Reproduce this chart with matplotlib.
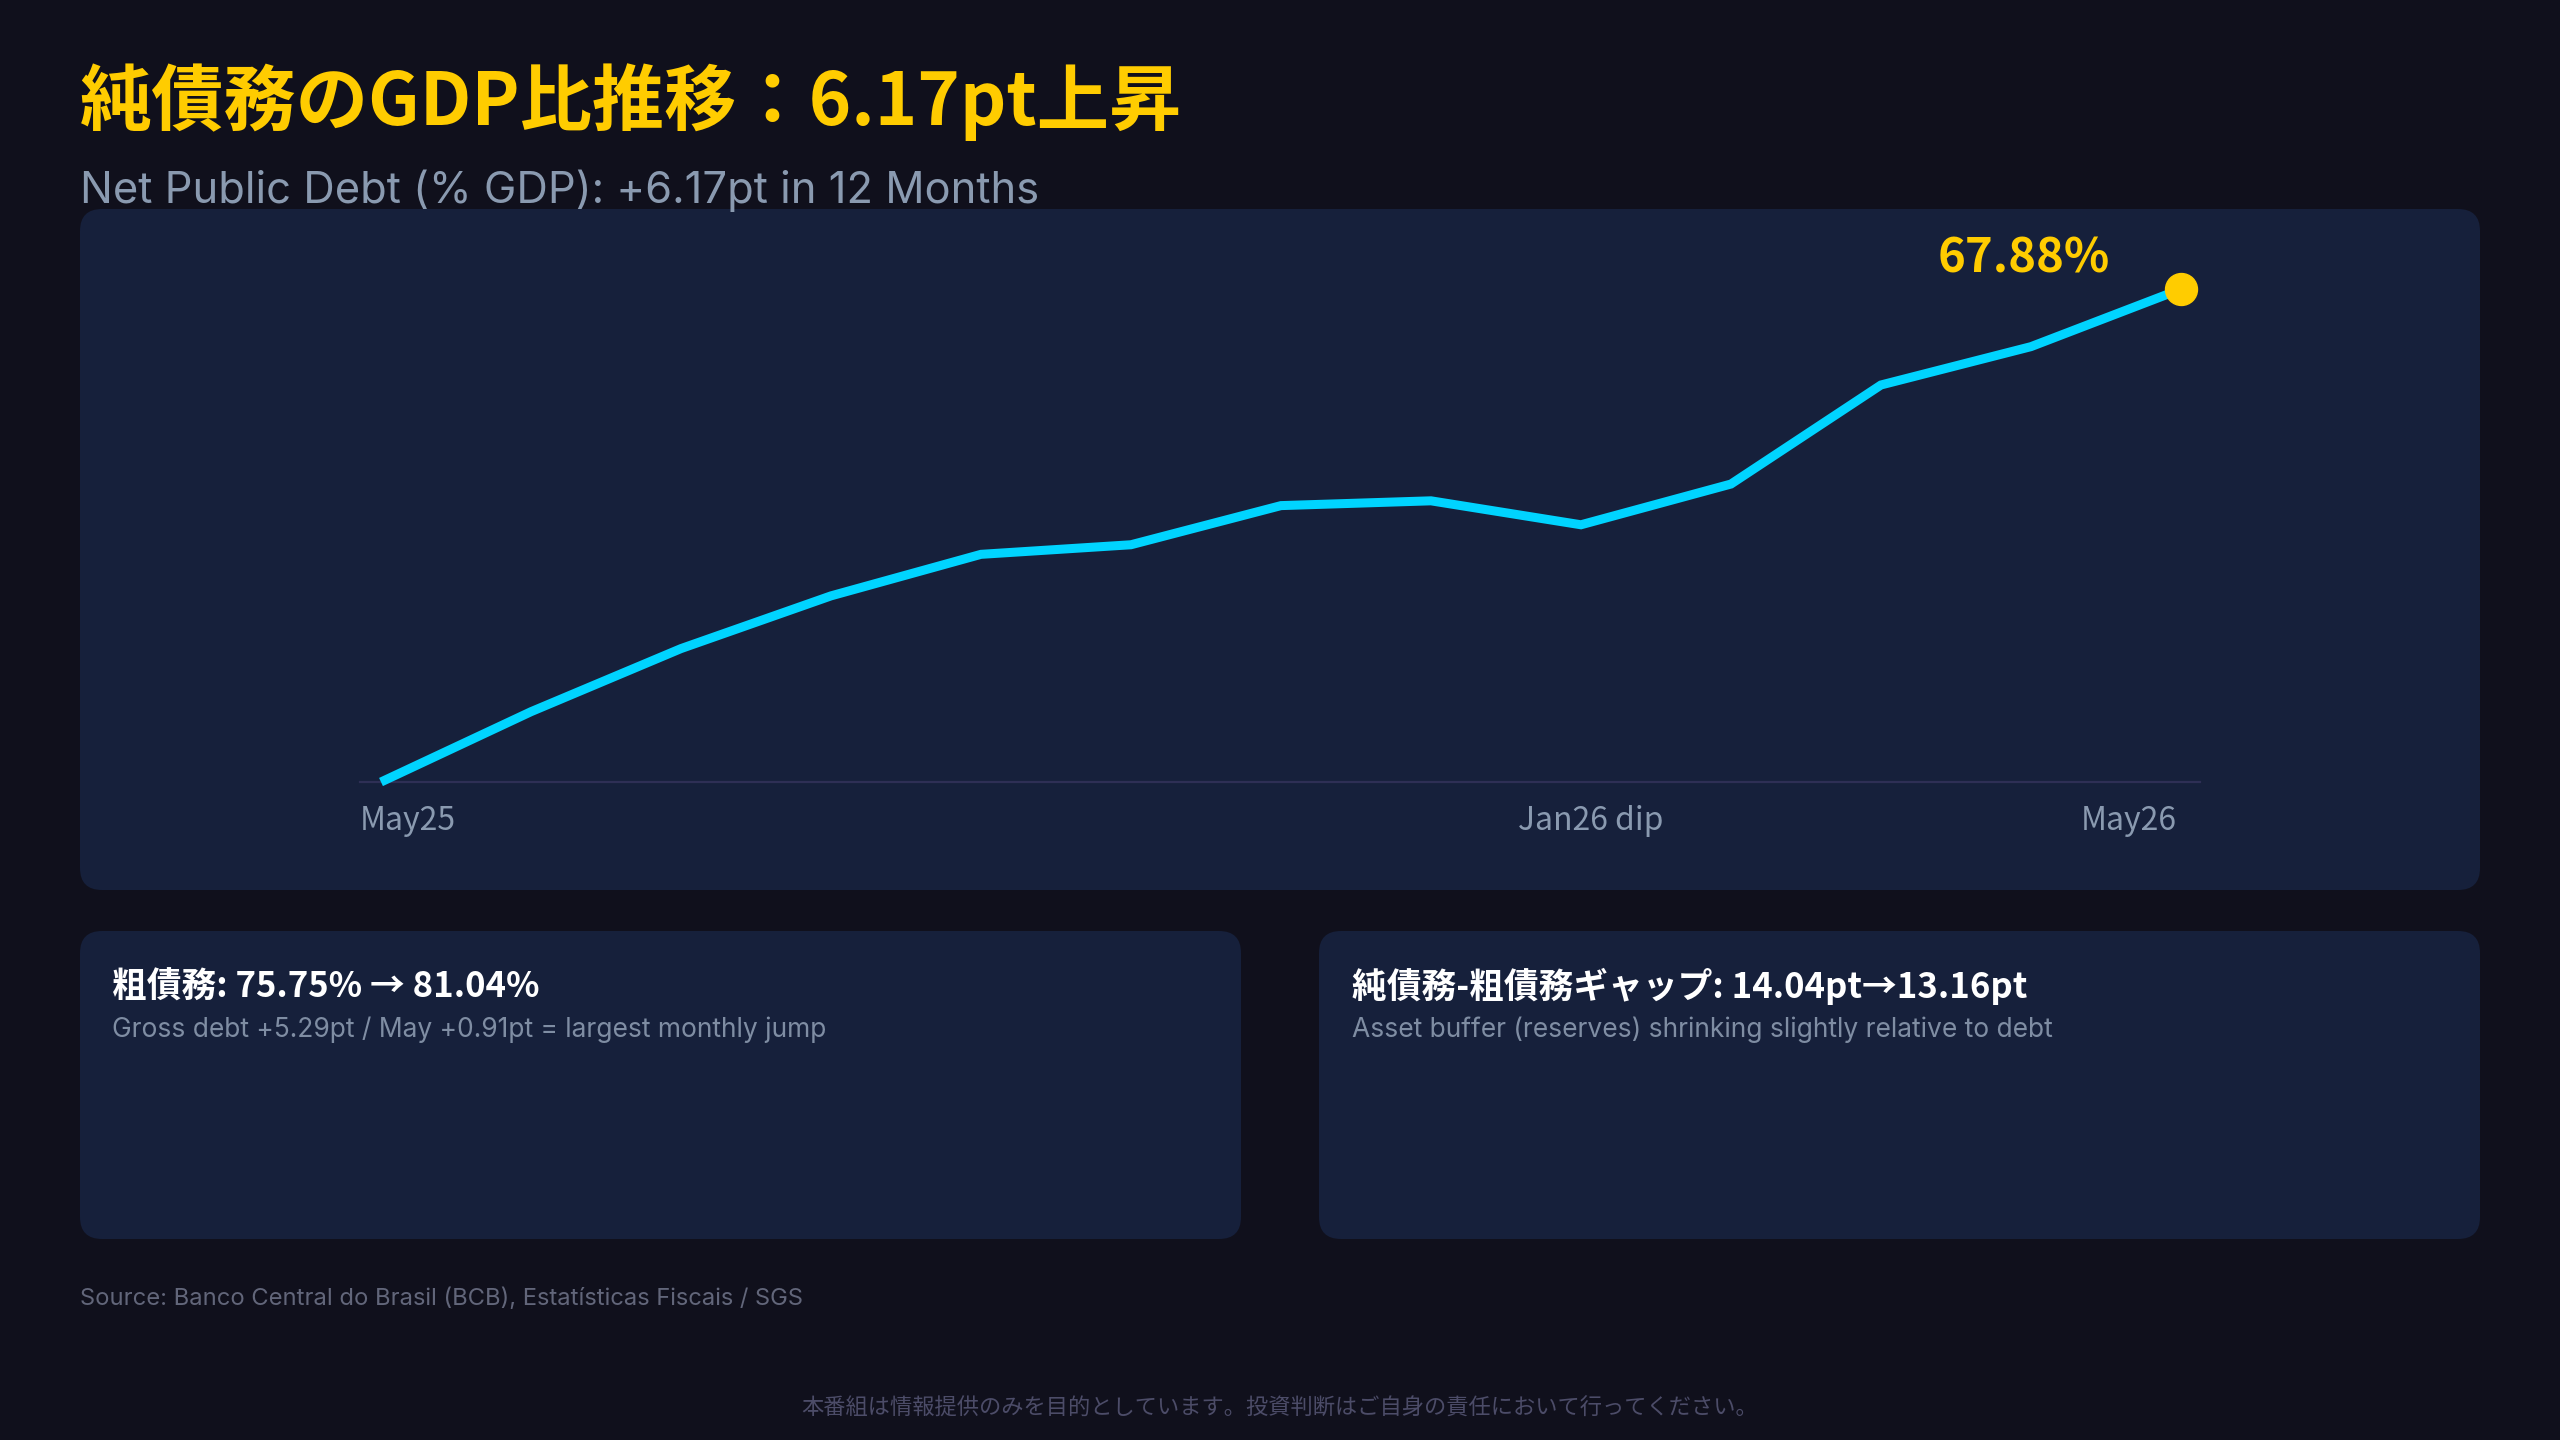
import matplotlib
matplotlib.use('Agg')
import matplotlib.pyplot as plt
from matplotlib.patches import FancyBboxPatch
from matplotlib.transforms import blended_transform_factory

# Data: net public debt (% of GDP), May 2025 - May 2026
months = ['May25', 'Jun25', 'Jul25', 'Aug25', 'Sep25', 'Oct25', 'Nov25',
          'Dec25', 'Jan26', 'Feb26', 'Mar26', 'Apr26', 'May26']
net_debt = [61.71, 62.59, 63.38, 64.04, 64.56, 64.68, 65.17,
            65.23, 64.93, 65.44, 66.68, 67.16, 67.88]

# x-axis labels shown (index into months)
tick_idx = [0, 8, 12]
tick_text = ['May25', 'Jan26 dip', 'May26']

title = '純債務のGDP比推移：6.17pt上昇'
subtitle = 'Net Public Debt (% GDP): +6.17pt in 12 Months'
card_titles = ['粗債務: 75.75% → 81.04%', '純債務-粗債務ギャップ: 14.04pt→13.16pt']
card_notes = ['Gross debt +5.29pt / May +0.91pt = largest monthly jump',
              'Asset buffer (reserves) shrinking slightly relative to debt']
source = 'Source: Banco Central do Brasil (BCB), Estatísticas Fiscais / SGS'
disclaimer = '本番組は情報提供のみを目的としています。投資判断はご自身の責任において行ってください。'

# Colours
BG = '#10101c'
PANEL = '#16203b'
CYAN = '#00d4ff'
GOLD = '#ffcc00'
MUTED = '#8a9ab0'
BASELINE = '#2e2f55'

plt.rcParams['font.family'] = ['Noto Sans CJK JP', 'DejaVu Sans']
LATIN = ['Inter', 'Noto Sans CJK JP']

W, H = 2560, 1440


def rounded(ax, x, y, w, h):
    ax.add_patch(FancyBboxPatch((x, y), w, h, boxstyle='round,pad=0,rounding_size=22',
                                facecolor=PANEL, edgecolor='none'))


def generate():
    fig = plt.figure(figsize=(W / 100, H / 100), dpi=100, facecolor=BG)

    # background layer in pixel coordinates (top-left origin)
    bg = fig.add_axes([0, 0, 1, 1])
    bg.set_xlim(0, W)
    bg.set_ylim(H, 0)
    bg.axis('off')

    rounded(bg, 80, 209, 2400, 681)
    rounded(bg, 80, 931, 1161, 308)
    rounded(bg, 1319, 931, 1161, 308)

    bg.text(80, 125, title, fontsize=52, fontweight='bold', color=GOLD, va='baseline')
    bg.text(80, 203, subtitle, fontsize=31.3, color=MUTED, va='baseline', family=LATIN)

    for x0, t, n in zip([112, 1352], card_titles, card_notes):
        bg.text(x0, 998, t, fontsize=25, fontweight='bold', color='white', va='baseline')
        bg.text(x0, 1037, n, fontsize=19, color='#7f8da3', va='baseline', family=LATIN)

    bg.text(80, 1305, source, fontsize=17.1, color='#62667a', va='baseline', family=LATIN)
    bg.text(1280, 1415, disclaimer, fontsize=16, color='#4c4c68', va='baseline', ha='center')

    # line chart
    left, right, top, bottom = 360, 2200, 229, 782
    ax = fig.add_axes([left / W, 1 - bottom / H, (right - left) / W, (bottom - top) / H])
    ax.set_facecolor('none')
    x = list(range(len(months)))
    ax.plot(x, net_debt, color=CYAN, linewidth=6.5, solid_joinstyle='miter',
            solid_capstyle='butt', clip_on=False, zorder=3)
    ax.plot(x[-1], net_debt[-1], 'o', color=GOLD, markersize=23, clip_on=False, zorder=4)
    ax.annotate(f'{net_debt[-1]:.2f}%', xy=(x[-1], net_debt[-1]), xytext=(-157, 17),
                textcoords='offset pixels', ha='center', va='baseline',
                fontsize=34, fontweight='bold', color=GOLD)

    lo, hi = min(net_debt), max(net_debt)
    ax.set_ylim(lo, hi + (hi - lo) * 0.122)
    ax.set_xlim(-0.14, 12.127)
    ax.set_xticks([])
    ax.set_yticks([])
    for s in ['top', 'right', 'left']:
        ax.spines[s].set_visible(False)
    ax.spines['bottom'].set_color(BASELINE)
    ax.spines['bottom'].set_linewidth(1.6)

    trans = blended_transform_factory(ax.transData, ax.transAxes)
    offsets = {'left': -21, 'center': 10, 'right': -4}
    for i, lab, ha in zip(tick_idx, tick_text, ['left', 'center', 'right']):
        ax.annotate(lab, xy=(i, 0), xycoords=trans, xytext=(offsets[ha], -48),
                    textcoords='offset pixels', ha=ha, va='baseline',
                    fontsize=23, color=MUTED)

    fig.savefig('out.png', dpi=100, facecolor=BG)


if __name__ == '__main__':
    generate()
